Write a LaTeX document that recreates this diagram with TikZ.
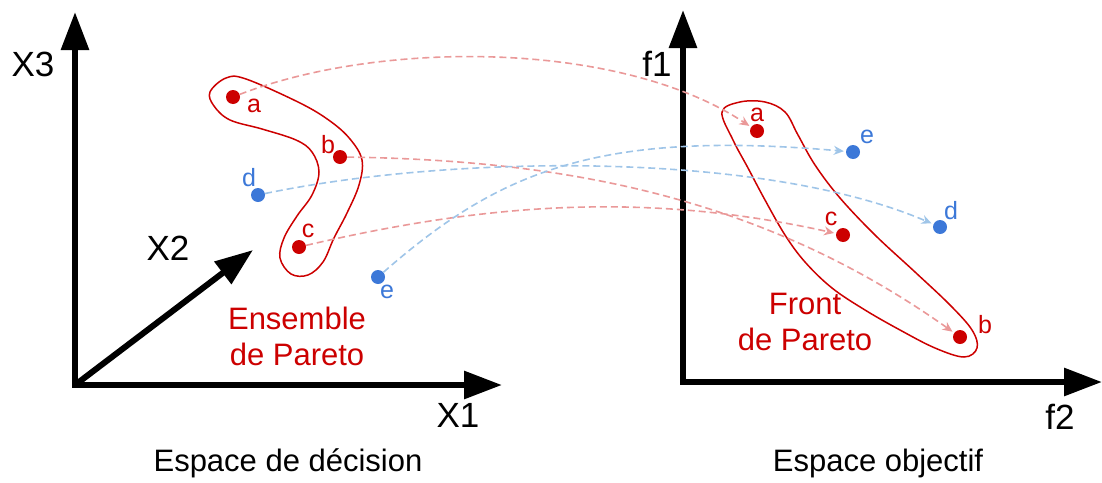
\documentclass[tikz,border=0pt]{standalone}
\usepackage{fontspec}
\setmainfont{Liberation Sans}
\usetikzlibrary{arrows.meta}

\definecolor{ptred}{HTML}{CC0000}
\definecolor{ptblue}{HTML}{3C78D8}
\definecolor{linkred}{HTML}{EA9999}
\definecolor{linkblue}{HTML}{9FC5E8}

\tikzset{
  axis/.style={line width=6pt, -{Triangle[length=38pt,width=27pt]}},
  axisboth/.style={line width=6pt, {Triangle[length=38pt,width=27pt]}-{Triangle[length=38pt,width=27pt]}},
  reddot/.style={circle, fill=ptred, inner sep=0pt, minimum size=14pt},
  bluedot/.style={circle, fill=ptblue, inner sep=0pt, minimum size=14pt},
  ptlabel/.style={inner sep=0pt, font=\fontsize{25}{30}\selectfont},
  axlabel/.style={inner sep=0pt, font=\fontsize{35}{42}\selectfont},
  spacelabel/.style={inner sep=0pt, font=\fontsize{31}{37}\selectfont},
  setlabel/.style={inner sep=0pt, align=center, text=ptred, font=\fontsize{31}{36}\selectfont},
  redlink/.style={draw=linkred, line width=1.6pt, dash pattern=on 7pt off 4pt,
    -{Stealth[length=10pt,width=9pt]}, shorten >=2pt},
  bluelink/.style={draw=linkblue, line width=1.6pt, dash pattern=on 7pt off 4pt,
    -{Stealth[length=10pt,width=9pt]}, shorten >=2pt},
  blob/.style={draw=ptred, line width=1.5pt}
}

\begin{document}
\begin{tikzpicture}[x=1pt,y=-1pt]
  \useasboundingbox (0,0) rectangle (1102,482);

  % decision space axes
  \coordinate (o1) at (75,385);
  \coordinate (x3tip) at (75,12);
  \coordinate (x1tip) at (502,385);
  \coordinate (x2tip) at (253,250);
  \draw[axisboth] (x3tip) -- (o1) -- (x1tip);
  \draw[axis] (o1) -- (x2tip);
  \node[axlabel] (lX3) at (33,64) {X3};
  \node[axlabel] (lX2) at (168,248) {X2};
  \node[axlabel] (lX1) at (458,415) {X1};
  \node[spacelabel] (dspace) at (288,463) {Espace de décision};

  % objective space axes
  \coordinate (o2) at (683,382);
  \coordinate (f1tip) at (683,10);
  \coordinate (f2tip) at (1102,382);
  \draw[axisboth] (f1tip) -- (o2) -- (f2tip);
  \node[axlabel] (lf1) at (657,64) {f1};
  \node[axlabel] (lf2) at (1060,417) {f2};
  \node[spacelabel] (ospace) at (878,463) {Espace objectif};

  % pareto set and front outlines
  \draw[blob] plot[smooth cycle, tension=0.6] coordinates {
    (210,92) (226,78) (246,79) (300,103) (330,121) (350,139) (362,160)
    (359,185) (347,213) (334,238) (323,262) (308,275) (291,274) (280,258)
    (284,238) (297,216) (312,195) (319,172) (312,152) (296,140) (262,129)
    (230,120) (214,106)};
  \draw[blob] plot[smooth cycle, tension=0.6] coordinates {
    (722,112) (740,102) (765,102) (785,112) (798,135) (815,165) (840,198)
    (875,235) (915,272) (950,305) (972,330) (977,348) (964,357) (935,348)
    (900,330) (865,310) (832,288) (805,262) (785,235) (765,200) (748,168)
    (733,140)};

  % points
  \node[reddot] (aL) at (233,97) {};
  \node[reddot] (bL) at (340,157) {};
  \node[reddot] (cL) at (299,247) {};
  \node[bluedot] (dL) at (258,195) {};
  \node[bluedot] (eL) at (378,277) {};
  \node[reddot] (aR) at (757,131) {};
  \node[reddot] (bR) at (960,337) {};
  \node[reddot] (cR) at (843,235) {};
  \node[bluedot] (dR) at (940,227) {};
  \node[bluedot] (eR) at (853,152) {};

  % mappings
  \draw[redlink] (aL) .. controls (380,40) and (620,40) .. (aR);
  \draw[redlink] (bL) .. controls (560,160) and (760,195) .. (bR);
  \draw[redlink] (cL) .. controls (480,205) and (640,190) .. (cR);
  \draw[bluelink] (dL) .. controls (450,155) and (760,150) .. (dR);
  \draw[bluelink] (eL) .. controls (500,170) and (600,130) .. (eR);

  % point names
  \node[ptlabel, text=ptred] (naL) at (254,106) {a};
  \node[ptlabel, text=ptred] (nbL) at (328,145) {b};
  \node[ptlabel, text=ptred] (ncL) at (308,231) {c};
  \node[ptlabel, text=ptblue] (ndL) at (249,178) {d};
  \node[ptlabel, text=ptblue] (neL) at (387,292) {e};
  \node[ptlabel, text=ptred] (naR) at (757,115) {a};
  \node[ptlabel, text=ptred] (nbR) at (985,325) {b};
  \node[ptlabel, text=ptred] (ncR) at (831,219) {c};
  \node[ptlabel, text=ptblue] (ndR) at (951,211) {d};
  \node[ptlabel, text=ptblue] (neR) at (867,137) {e};

  \node[setlabel] (pset) at (297,336) {Ensemble\\de Pareto};
  \node[setlabel] (pfront) at (805,322) {Front\\de Pareto};
\end{tikzpicture}
\end{document}
